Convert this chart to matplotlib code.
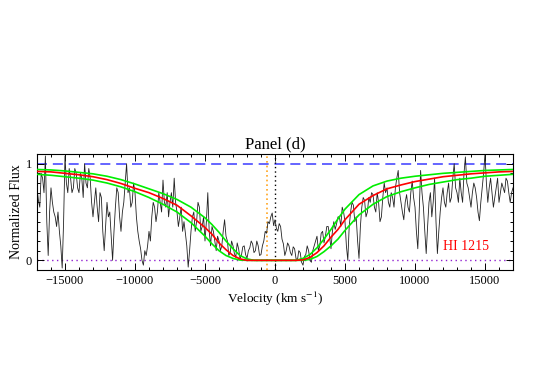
import numpy as np
import matplotlib
matplotlib.use('Agg')
import matplotlib.pyplot as plt
from matplotlib.ticker import MultipleLocator

plt.rcParams['font.family'] = ['Liberation Serif', 'DejaVu Serif']
plt.rcParams['mathtext.fontset'] = 'stix'

# observed spectrum, sampled every 100 km/s from -17000 to 17000
v_spec = np.arange(-17000, 17001, 100)
flux_spec = [
    0.75, 0.62, 0.55, 0.9, 0.85, 0.7, 1.08, 0.4, 0.05, 0.5, 0.75, 0.6, 0.5, 0.45, 0.35, 0.5, 0.3, 0.15, -0.08, 0.4,
    1.08, 0.8, 0.7, 0.95, 0.85, 0.7, 0.75, 0.95, 0.9, 0.75, 0.7, 0.9, 0.85, 0.65, 1.0, 0.8, 0.75, 0.95, 0.85, 0.6,
    0.45, 0.6, 0.75, 0.55, 0.4, 0.7, 0.65, 0.3, 0.1, 0.35, 0.6, 0.45, 0.5, 0.25, 0.0, 0.3, 0.55, 0.75, 0.7, 0.45,
    0.3, 0.5, 0.6, 0.8, 1.0, 0.7, 0.75, 0.55, 0.6, 0.8, 0.7, 0.45, 0.3, 0.2, 0.12, 0.0, -0.05, 0.1, 0.05, 0.15,
    0.3, 0.2, 0.45, 0.6, 0.55, 0.4, 0.5, 0.7, 0.6, 0.5, 0.83, 0.6, 0.55, 0.7, 0.45, 0.6, 0.7, 0.55, 0.85, 0.6,
    0.5, 0.35, 0.45, 0.55, 0.3, 0.4, 0.28, 0.15, -0.07, 0.1, 0.3, 0.45, 0.5, 0.3, 0.4, 0.6, 0.55, 0.3, 0.35, 0.45,
    0.2, 0.4, 0.7, 0.3, 0.15, 0.35, 0.3, 0.2, 0.1, 0.25, 0.2, 0.1, 0.15, 0.3, 0.42, 0.25, 0.2, 0.05, 0.08, 0.2,
    0.15, 0.07, 0.03, 0.18, 0.12, 0.02, 0.05, 0.14, 0.15, 0.06, 0.02, 0.1, 0.13, 0.2, 0.17, 0.08, 0.1, 0.2, 0.15, 0.05,
    0.06, 0.15, 0.2, 0.3, 0.28, 0.4, 0.38, 0.45, 0.49, 0.36, 0.42, 0.33, 0.3, 0.38, 0.35, 0.22, 0.17, 0.05, 0.1, 0.18,
    0.15, 0.08, 0.05, 0.14, 0.12, 0.02, 0.0, 0.1, 0.08, -0.02, -0.05, 0.04, 0.06, 0.15, 0.1, 0.0, -0.02, 0.1, 0.15, 0.2,
    0.25, 0.1, 0.15, 0.28, 0.3, 0.18, 0.25, 0.35, 0.35, 0.25, 0.12, 0.3, 0.4, 0.32, 0.38, 0.45, 0.45, 0.35, 0.55, 0.5,
    0.4, 0.15, 0.0, 0.35, 0.5, 0.6, 0.57, 0.4, 0.45, 0.2, 0.02, 0.35, 0.55, 0.65, 0.62, 0.45, 0.5, 0.65, 0.6, 0.7,
    0.68, 0.55, 0.5, 0.7, 0.6, 0.4, 0.45, 0.65, 0.8, 0.7, 0.75, 0.6, 0.55, 0.7, 0.65, 0.55, 0.75, 0.85, 0.93, 0.7,
    0.6, 0.5, 0.42, 0.6, 0.68, 0.55, 0.5, 0.7, 0.82, 0.65, 0.55, 0.3, 0.12, 0.5, 0.93, 0.7, 0.55, 0.3, 0.07, 0.35,
    0.6, 0.7, 0.45, 0.6, 0.85, 0.4, 0.07, 0.3, 0.5, 0.65, 0.75, 0.6, 0.55, 0.7, 0.8, 0.6, 0.65, 0.85, 1.0, 0.75,
    0.7, 0.6, 0.85, 0.7, 0.6, 0.9, 1.07, 0.8, 0.75, 0.65, 0.55, 0.7, 0.8, 0.75, 0.65, 0.5, 0.41, 0.6, 0.75, 0.9,
    1.1, 0.8, 0.6, 0.75, 0.85, 0.7, 0.55, 0.65, 0.75, 0.85, 0.6, 0.7, 0.8, 0.75, 0.7, 0.85, 0.82, 0.7, 0.6, 0.7,
    0.75,
]

# model profiles (best fit and envelope)
v_model = [-17000, -16000, -15000, -14000, -13000, -12000, -11000, -10000,
           -9000, -8000, -7000, -6000, -5000, -4500, -4000, -3500, -3000,
           -2500, -2000, -1500, -1000, -500, 0, 500, 1000, 1500, 2000, 2500,
           3000, 3500, 4000, 4500, 5000, 6000, 7000, 8000, 9000, 10000,
           11000, 12000, 13000, 14000, 15000, 16000, 17000]
flux_fit = [0.92, 0.915, 0.9, 0.885, 0.865, 0.835, 0.795, 0.745,
            0.70, 0.64, 0.57, 0.46, 0.34, 0.27, 0.18, 0.11, 0.05,
            0.015, 0.0, 0.0, 0.0, 0.0, 0.0, 0.0, 0.0, 0.0, 0.005, 0.03,
            0.08, 0.15, 0.24, 0.32, 0.42, 0.58, 0.67, 0.74, 0.78, 0.815,
            0.84, 0.865, 0.88, 0.895, 0.905, 0.915, 0.92]
flux_upper = [0.94, 0.935, 0.925, 0.91, 0.895, 0.87, 0.835, 0.79,
              0.74, 0.69, 0.63, 0.55, 0.44, 0.37, 0.29, 0.2, 0.12,
              0.05, 0.015, 0.0, 0.0, 0.0, 0.0, 0.0, 0.0, 0.0, 0.02, 0.06,
              0.13, 0.22, 0.32, 0.43, 0.53, 0.68, 0.77, 0.82, 0.85, 0.87,
              0.885, 0.9, 0.91, 0.92, 0.93, 0.935, 0.94]
flux_lower = [0.89, 0.88, 0.865, 0.85, 0.83, 0.80, 0.76, 0.71,
              0.65, 0.58, 0.50, 0.39, 0.25, 0.17, 0.1, 0.05, 0.02,
              0.003, 0.0, 0.0, 0.0, 0.0, 0.0, 0.0, 0.0, 0.0, 0.0, 0.01,
              0.04, 0.09, 0.15, 0.22, 0.31, 0.47, 0.58, 0.66, 0.71, 0.75,
              0.785, 0.81, 0.835, 0.85, 0.87, 0.88, 0.89]

v_sys = 0
v_ism = -600
line_name = 'HI 1215'

fig = plt.figure(figsize=(5.4, 3.86), dpi=100)
ax = fig.add_axes([0.0685, 0.3005, 0.8815, 0.3005])

ax.plot(v_spec, flux_spec, color='#222222', lw=0.6, zorder=2)
ax.axhline(1.0, color='#4a4aff', lw=1.2, ls=(0, (6, 3.5)), zorder=1)
ax.axhline(0.0, color='#9020d0', lw=1.0, ls=(0, (1, 2.5)), zorder=1)
ax.axvline(v_ism, color='#ffa520', lw=1.2, ls=(0, (1, 1.8)), zorder=1)
ax.axvline(v_sys, color='black', lw=1.0, ls=(0, (1, 2.2)), zorder=1)
ax.plot(v_model, flux_upper, color='#00ee00', lw=1.2, zorder=3)
ax.plot(v_model, flux_lower, color='#00ee00', lw=1.2, zorder=3)
ax.plot(v_model, flux_fit, color='#ff0000', lw=1.2, zorder=4)

ax.text(15300, 0.14, line_name, color='#ff0000', fontsize=10,
        ha='right', va='center')

ax.set_xlim(-17000, 17000)
ax.set_ylim(-0.1, 1.1)
ax.xaxis.set_major_locator(MultipleLocator(5000))
ax.xaxis.set_minor_locator(MultipleLocator(1000))
ax.yaxis.set_major_locator(MultipleLocator(1))
ax.yaxis.set_minor_locator(MultipleLocator(0.1))
ax.tick_params(which='both', direction='in', top=True, right=True,
               labelsize=9, width=0.7)
ax.tick_params(which='major', length=5)
ax.tick_params(which='minor', length=2.5)
for s in ax.spines.values():
    s.set_linewidth(0.8)

ax.set_xlabel(r'Velocity (km s$^{-1}$)', fontsize=9.5, labelpad=2)
ax.set_ylabel('Normalized Flux', fontsize=10, labelpad=2)
ax.set_title('Panel (d)', fontsize=12, pad=4)

fig.savefig('out.png', dpi=100)
